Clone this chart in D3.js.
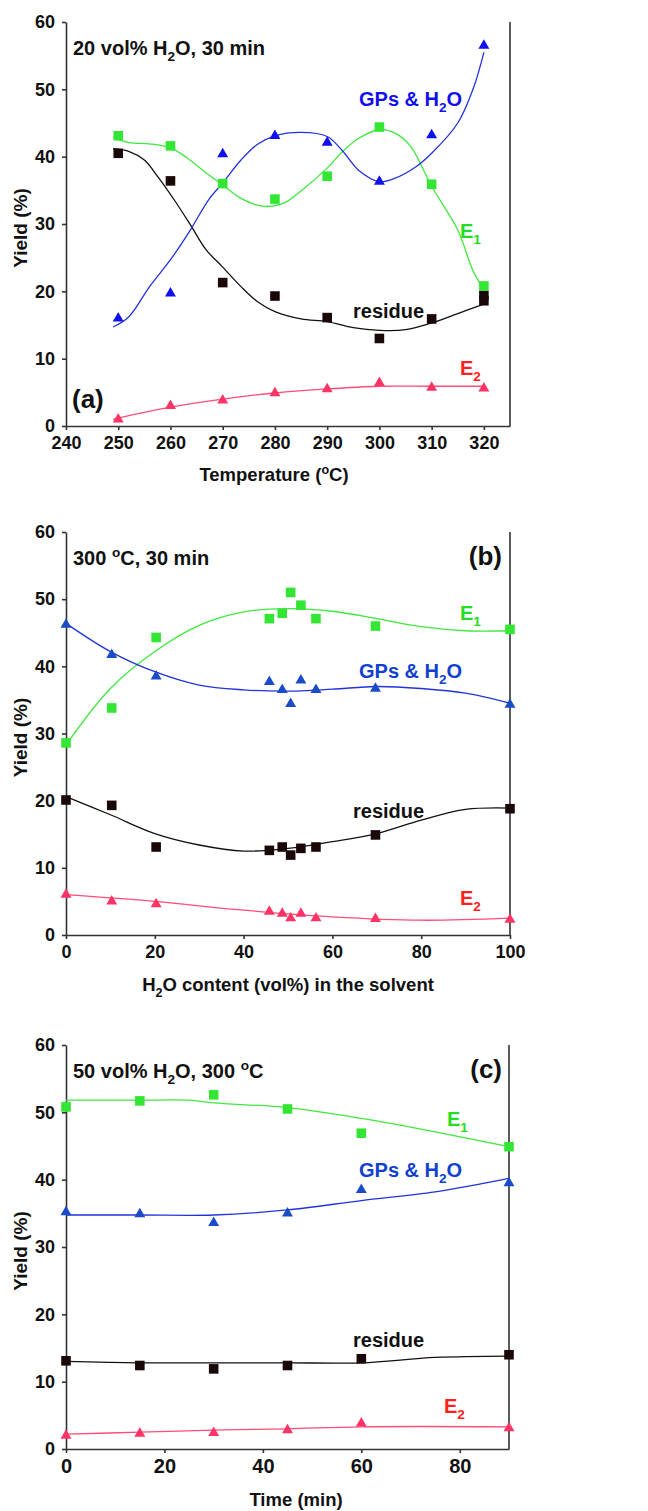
<!DOCTYPE html>
<html>
<head>
<meta charset="utf-8">
<script src="https://cdn.jsdelivr.net/npm/d3@7"></script>
<style>
  body { margin: 0; background: #fff; }
  svg { display: block; }
  text { font-family: "Liberation Sans", Arial, sans-serif; font-weight: bold; }
  .tick text { font-family: "Liberation Sans Narrow", "Arial Narrow", "Liberation Sans", sans-serif; font-size: 18px; fill: #111; }
  .tick line, .domain { stroke: #333; stroke-width: 1.6; }
</style>
</head>
<body>
<div id="chart"></div>
<script>
// ---- panel (a): 20 vol% H2O, 30 min, vs temperature
var tempA = [250, 260, 270, 280, 290, 300, 310, 320];
var residueA = [40.5, 36.4, 21.3, 19.3, 16.1, 13.0, 15.9, 18.6];
var residueRepeatA = [[320, 19.4]];
var e1A = [43.1, 41.6, 36.0, 33.7, 37.1, 44.4, 35.9, 20.8];
var gpsA = [16.0, 19.7, 40.4, 43.1, 42.1, 36.3, 43.2, 56.5];
var e2A = [1.0, 3.0, 3.8, 4.9, 5.5, 6.4, 5.7, 5.6];
// fitted curves: [x, yield]
var residueFitA = [[249, 41.2], [252, 40.8], [255, 39.5], [257.6, 37.0], [260.7, 33.6], [263.8, 29.9], [266.8, 26.2], [270, 23.6], [273.5, 20.7], [276.6, 18.5], [280, 17.0], [285, 15.9], [290, 15.5], [295, 14.6], [300, 14.2], [305, 14.3], [310, 15.3], [315, 16.7], [320, 18.1]];
var e1FitA = [[249, 42.9], [252, 42.1], [256, 41.9], [260, 41.3], [263.2, 39.8], [267.3, 37.3], [270, 35.8], [273.5, 33.8], [276.6, 32.8], [278.6, 32.6], [281.7, 33.1], [284.8, 34.8], [290, 38.3], [293, 40.8], [296, 42.7], [300, 44.0], [303, 43.5], [306, 41.5], [310, 35.6], [315, 29.1], [318, 22.9], [320, 20.3]];
var gpsFitA = [[249, 14.7], [252, 16.2], [256, 20.7], [260, 24.7], [263.8, 29.1], [267.3, 33.6], [270, 36.1], [273.5, 39.5], [276.6, 41.8], [280, 43.1], [285, 43.6], [290, 43.0], [293, 40.8], [296, 38.0], [300, 36.3], [303, 36.8], [307, 38.5], [310, 40.5], [315, 45.0], [318, 50.2], [320, 55.5]];
var e2FitA = [[249, 1.0], [260, 2.8], [270, 4.0], [280, 4.9], [290, 5.5], [300, 5.9], [310, 5.9], [320, 5.9]];

// ---- panel (b): 300 oC, 30 min, vs H2O content
var waterB = [0, 10.3, 20.3, 45.8, 48.7, 50.6, 52.9, 56.3, 69.7, 100];
var e1B = [28.6, 33.8, 44.3, 47.1, 47.9, 51.0, 49.1, 47.1, 46.0, 45.5];
var gpsB = [46.2, 41.7, 38.5, 37.7, 36.5, 34.4, 37.9, 36.5, 36.7, 34.3];
var residueB = [20.1, 19.3, 13.1, 12.6, 13.1, 11.9, 12.9, 13.1, 14.9, 18.8];
var e2B = [6.0, 5.0, 4.6, 3.5, 3.2, 2.5, 3.2, 2.5, 2.4, 2.3];
var e1FitB = [[0, 28.3], [10, 36.7], [20, 42.2], [30, 46.1], [40, 48.1], [50, 48.6], [60, 48.2], [70, 47.1], [80, 45.9], [90, 45.3], [100, 45.3]];
var gpsFitB = [[0, 46.4], [10, 42.2], [20, 39.2], [30, 37.2], [40, 36.5], [50, 36.3], [60, 36.6], [70, 37.0], [80, 36.7], [90, 36.0], [100, 34.5]];
var residueFitB = [[0, 20.6], [10, 17.9], [20, 15.1], [30, 13.4], [40, 12.5], [50, 12.9], [60, 13.9], [70, 15.1], [80, 17.1], [90, 18.7], [100, 18.9]];
var e2FitB = [[0, 6.0], [20, 5.0], [40, 3.7], [60, 2.7], [80, 2.2], [100, 2.5]];

// ---- panel (c): 50 vol% H2O, 300 oC, vs time
var timeC = [0, 15, 30, 45, 60, 90];
var e1C = [50.8, 51.7, 52.6, 50.5, 46.9, 44.9];
var gpsC = [35.2, 34.9, 33.6, 35.0, 38.5, 39.5];
var residueC = [13.1, 12.4, 11.9, 12.4, 13.4, 14.0];
var e2C = [2.0, 2.3, 2.4, 2.8, 3.8, 3.1];
var e1FitC = [[0, 51.8], [15, 51.8], [25, 51.8], [30, 51.4], [45, 50.7], [60, 49.1], [75, 47.1], [90, 44.9]];
var gpsFitC = [[0, 34.75], [15, 34.75], [30, 34.75], [45, 35.5], [60, 36.9], [75, 38.2], [90, 40.2]];
var residueFitC = [[0, 13.0], [15, 12.8], [30, 12.8], [45, 12.8], [60, 12.8], [75, 13.6], [90, 13.8]];
var e2FitC = [[0, 2.2], [15, 2.5], [30, 2.8], [45, 3.0], [60, 3.3], [90, 3.3]];

var yTicks = [0, 10, 20, 30, 40, 50, 60];

var col = {
    residue: "#1a0808", e1: "#33e633", e1Line: "#3ee83e",
    gpsA: "#1010ee", gps: "#1a4cc8", gpsLine: "#2233dd",
    e2: "#ff3366", e2Line: "#ff4d77", e2Text: "#ff2020"
};

var svg = d3.select("#chart").append("svg")
    .attr("width", 648)
    .attr("height", 1511);

// write text with sub/superscripts: parts = [[text, mode]]
function rich(sel, parts, size) {
    var shift = 0;
    parts.forEach(function (p) {
        var t = sel.append("tspan").text(p[0]);
        var want = p[1] === "sub" ? size * 0.3 : (p[1] === "sup" ? -size * 0.38 : 0);
        t.attr("dy", want - shift);
        if (p[1]) t.attr("font-size", size * 0.68);
        shift = want;
    });
    return sel;
}

function label(g, x, y, parts, size, color, anchor) {
    var t = g.append("text")
        .attr("x", x).attr("y", y)
        .attr("font-size", size)
        .attr("fill", color)
        .attr("text-anchor", anchor || "start");
    rich(t, parts, size);
}

function drawPanel(cfg) {
    var g = svg.append("g");
    var x = d3.scaleLinear().domain(cfg.xDomain).range([66, cfg.xRight]);
    var y = d3.scaleLinear().domain([0, 60]).range([cfg.yBottom, cfg.yTop]);

    g.append("g")
        .attr("transform", "translate(66,0)")
        .call(d3.axisLeft(y).tickValues(yTicks).tickSize(4).tickSizeOuter(0).tickPadding(7));

    var xa = g.append("g")
        .attr("transform", "translate(0," + cfg.yBottom + ")")
        .call(d3.axisBottom(x).tickValues(cfg.xTicks).tickSize(4).tickSizeOuter(0).tickPadding(6));
    xa.selectAll(".tick text").style("font-size", cfg.xTickSize + "px");

    // right frame line
    g.append("line")
        .attr("x1", cfg.xRight).attr("x2", cfg.xRight)
        .attr("y1", cfg.yTop).attr("y2", cfg.yBottom)
        .attr("stroke", "#333").attr("stroke-width", 1.6);

    var line = d3.line()
        .x(function (d) { return x(d[0]); })
        .y(function (d) { return y(d[1]); })
        .curve(d3.curveCatmullRom);

    cfg.series.forEach(function (s) {
        g.append("path")
            .datum(s.fit)
            .attr("fill", "none")
            .attr("stroke", s.lineColor)
            .attr("stroke-width", 1.3)
            .attr("d", line);
    });

    cfg.series.forEach(function (s) {
        var pts = s.values.map(function (v, i) { return [cfg.xs[i], v]; });
        if (s.extra) pts = pts.concat(s.extra);
        var sym = d3.symbol().type(s.shape === "square" ? d3.symbolSquare : d3.symbolTriangle)
            .size(s.shape === "square" ? 92 : 52);
        g.selectAll(null)
            .data(pts)
            .enter().append("path")
            .attr("d", sym)
            .attr("transform", function (d) { return "translate(" + x(d[0]) + "," + y(d[1]) + ")"; })
            .attr("fill", s.color);
    });

    // y axis title
    g.append("text")
        .attr("transform", "translate(27," + ((cfg.yTop + cfg.yBottom) / 2 + 4) + ") rotate(-90)")
        .attr("text-anchor", "middle")
        .attr("font-size", 19)
        .attr("fill", "#111")
        .text("Yield (%)");

    label(g, cfg.xTitleX, cfg.xTitleY, cfg.xTitle, 18.5, "#111", "middle");
    label(g, 73, cfg.titleY, cfg.title, 20, "#111");
    cfg.labels.forEach(function (l) {
        label(g, l.x, l.y, l.parts, l.size || 20, l.color, l.anchor);
    });
}

drawPanel({
    xDomain: [240, 325], xRight: 510, xTicks: [240, 250, 260, 270, 280, 290, 300, 310, 320], xTickSize: 18,
    yTop: 22, yBottom: 426, xs: tempA,
    series: [
        { values: e2A, fit: e2FitA, shape: "tri", color: col.e2, lineColor: col.e2Line },
        { values: residueA, extra: residueRepeatA, fit: residueFitA, shape: "square", color: col.residue, lineColor: "#111" },
        { values: e1A, fit: e1FitA, shape: "square", color: col.e1, lineColor: col.e1Line },
        { values: gpsA, fit: gpsFitA, shape: "tri", color: col.gpsA, lineColor: col.gpsLine }
    ],
    title: [["20 vol% H", ""], ["2", "sub"], ["O, 30 min", ""]], titleY: 55,
    xTitle: [["Temperature (", ""], ["o", "sup"], ["C)", ""]], xTitleX: 274, xTitleY: 481,
    labels: [
        { x: 359, y: 106, parts: [["GPs & H", ""], ["2", "sub"], ["O", ""]], color: col.gpsA },
        { x: 460, y: 238, parts: [["E", ""], ["1", "sub"]], color: "#22dd22" },
        { x: 353, y: 318, parts: [["residue", ""]], color: "#111" },
        { x: 460, y: 375, parts: [["E", ""], ["2", "sub"]], color: col.e2Text },
        { x: 72, y: 408, parts: [["(a)", ""]], color: "#111", size: 26 }
    ]
});

drawPanel({
    xDomain: [0, 100], xRight: 510, xTicks: [0, 20, 40, 60, 80, 100], xTickSize: 18,
    yTop: 532, yBottom: 935, xs: waterB,
    series: [
        { values: e2B, fit: e2FitB, shape: "tri", color: col.e2, lineColor: col.e2Line },
        { values: residueB, fit: residueFitB, shape: "square", color: col.residue, lineColor: "#111" },
        { values: e1B, fit: e1FitB, shape: "square", color: col.e1, lineColor: col.e1Line },
        { values: gpsB, fit: gpsFitB, shape: "tri", color: col.gps, lineColor: col.gpsLine }
    ],
    title: [["300 ", ""], ["o", "sup"], ["C, 30 min", ""]], titleY: 565,
    xTitle: [["H", ""], ["2", "sub"], ["O content (vol%) in the solvent", ""]], xTitleX: 288, xTitleY: 991,
    labels: [
        { x: 502, y: 565, parts: [["(b)", ""]], color: "#111", size: 26, anchor: "end" },
        { x: 460, y: 620, parts: [["E", ""], ["1", "sub"]], color: "#22dd22" },
        { x: 359, y: 678, parts: [["GPs & H", ""], ["2", "sub"], ["O", ""]], color: "#1040d0" },
        { x: 353, y: 818, parts: [["residue", ""]], color: "#111" },
        { x: 460, y: 905, parts: [["E", ""], ["2", "sub"]], color: col.e2Text }
    ]
});

drawPanel({
    xDomain: [0, 90], xRight: 509, xTicks: [0, 20, 40, 60, 80], xTickSize: 20,
    yTop: 1045, yBottom: 1449, xs: timeC,
    series: [
        { values: e2C, fit: e2FitC, shape: "tri", color: col.e2, lineColor: col.e2Line },
        { values: residueC, fit: residueFitC, shape: "square", color: col.residue, lineColor: "#111" },
        { values: e1C, fit: e1FitC, shape: "square", color: col.e1, lineColor: col.e1Line },
        { values: gpsC, fit: gpsFitC, shape: "tri", color: col.gps, lineColor: col.gpsLine }
    ],
    title: [["50 vol% H", ""], ["2", "sub"], ["O, 300 ", ""], ["o", "sup"], ["C", ""]], titleY: 1078,
    xTitle: [["Time (min)", ""]], xTitleX: 296, xTitleY: 1506,
    labels: [
        { x: 502, y: 1078, parts: [["(c)", ""]], color: "#111", size: 26, anchor: "end" },
        { x: 447, y: 1126, parts: [["E", ""], ["1", "sub"]], color: "#22dd22" },
        { x: 359, y: 1177, parts: [["GPs & H", ""], ["2", "sub"], ["O", ""]], color: "#1040d0" },
        { x: 353, y: 1347, parts: [["residue", ""]], color: "#111" },
        { x: 444, y: 1413, parts: [["E", ""], ["2", "sub"]], color: col.e2Text }
    ]
});
</script>
</body>
</html>
